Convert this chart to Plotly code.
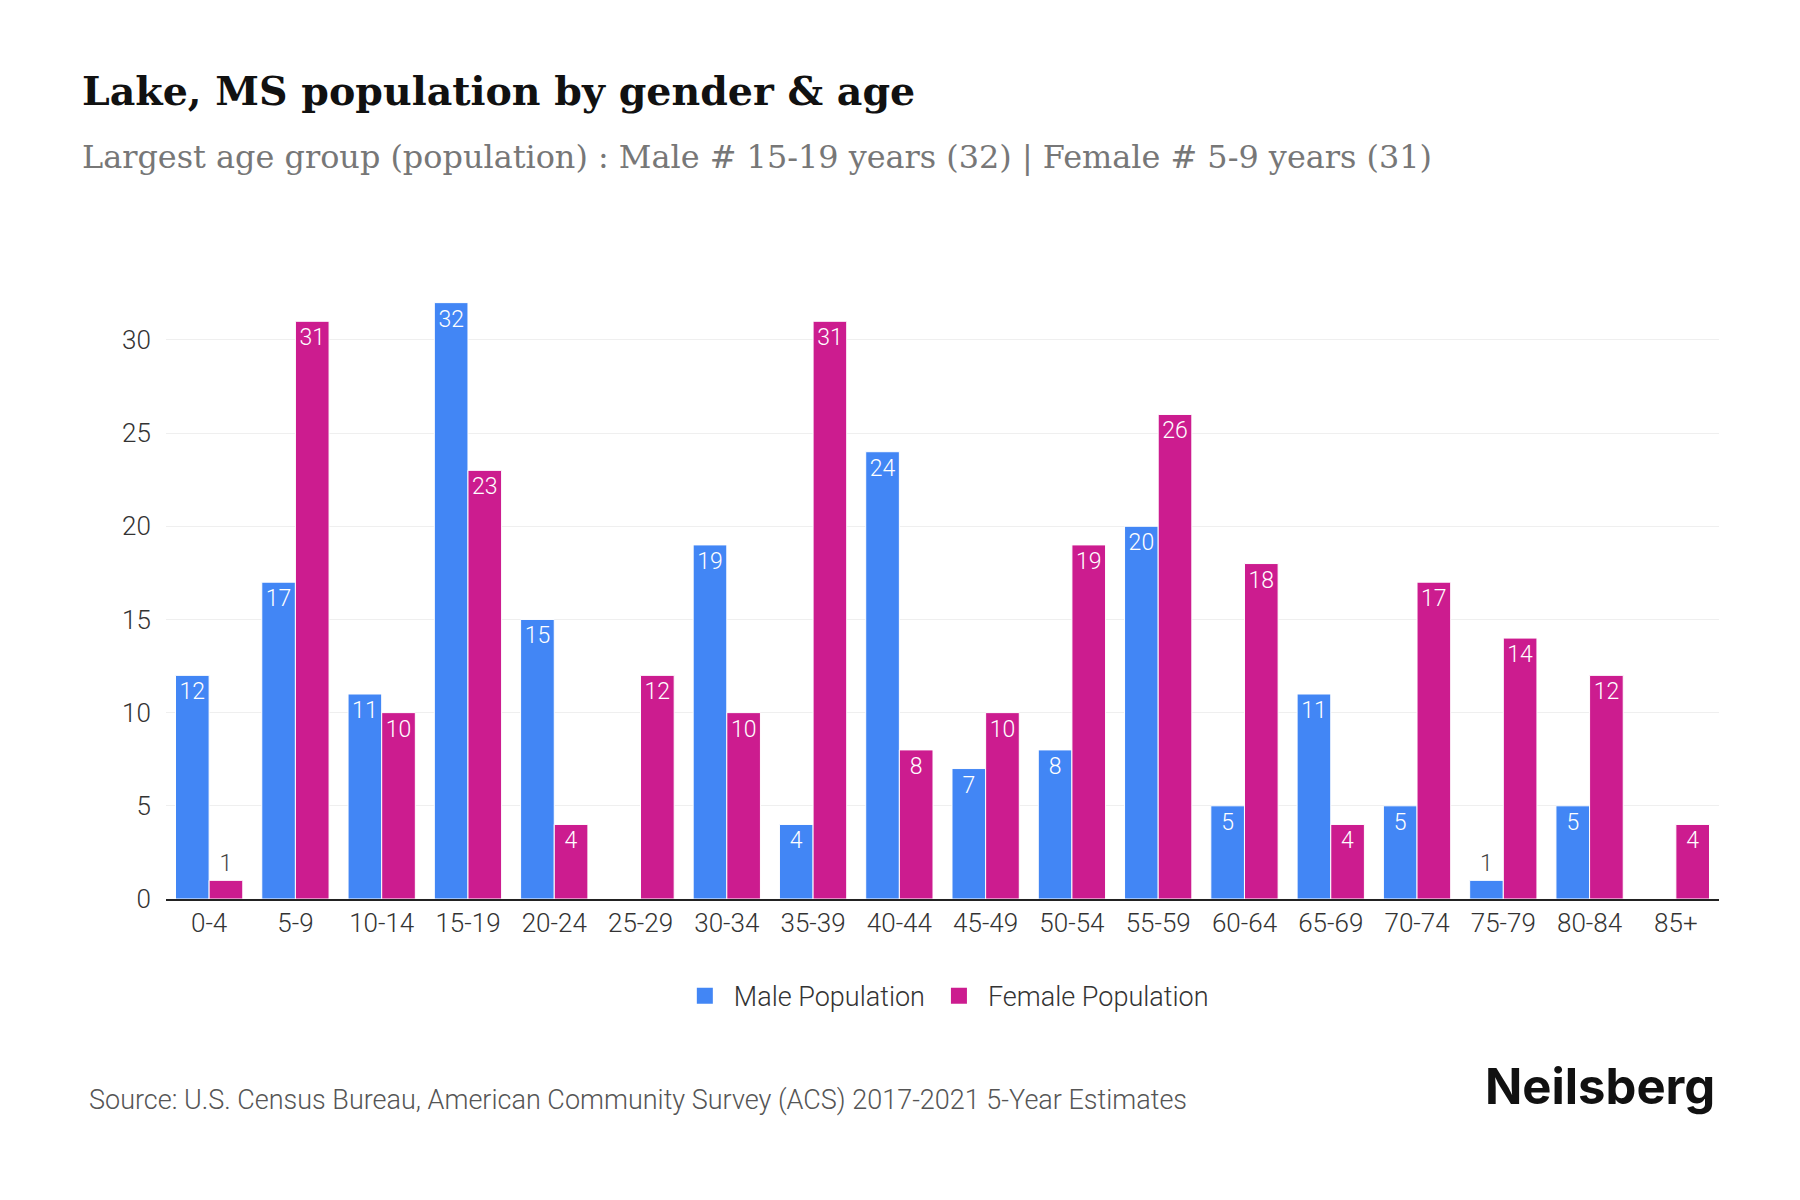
import plotly.graph_objects as go

age_groups = ["0-4", "5-9", "10-14", "15-19", "20-24", "25-29", "30-34", "35-39", "40-44",
              "45-49", "50-54", "55-59", "60-64", "65-69", "70-74", "75-79", "80-84", "85+"]
male = [12, 17, 11, 32, 15, 0, 19, 4, 24, 7, 8, 20, 5, 11, 5, 1, 5, 0]
female = [1, 31, 10, 23, 4, 12, 10, 31, 8, 10, 19, 26, 18, 4, 17, 14, 12, 4]
y_ticks = [0, 5, 10, 15, 20, 25, 30]

title_text = "Lake, MS population by gender & age"
subtitle_text = "Largest age group (population) : Male # 15-19 years (32) | Female # 5-9 years (31)"
source_text = "Source: U.S. Census Bureau, American Community Survey (ACS) 2017-2021 5-Year Estimates"

MALE_C = "#4286F5"
FEMALE_C = "#CC1C8F"
LABEL_FONT = dict(family="Roboto", size=23, weight=300)

fig = go.Figure()
for name, vals, col in [("Male Population", male, MALE_C), ("Female Population", female, FEMALE_C)]:
    fig.add_trace(go.Bar(
        x=age_groups, y=vals, name=name, showlegend=False,
        marker=dict(color=col, line=dict(color="white", width=1)),
        text=[str(v) if v else "" for v in vals],
        textposition=["outside" if v <= 2 else "inside" for v in vals],
        insidetextanchor="end", textangle=0,
        insidetextfont=dict(LABEL_FONT, color="white"),
        outsidetextfont=dict(LABEL_FONT, color="#444444"),
        cliponaxis=False,
    ))
    # legend entry with a larger square swatch
    fig.add_trace(go.Scatter(
        x=[None], y=[None], mode="markers", name=name,
        marker=dict(symbol="square", size=17, color=col),
    ))

fig.update_layout(
    width=1800, height=1200,
    paper_bgcolor="white", plot_bgcolor="white",
    margin=dict(l=158, r=89, t=276, b=309),
    barmode="group", bargap=0.22, bargroupgap=0,
    showlegend=True,
    legend=dict(orientation="h", x=0.5015, xanchor="center", y=-0.158, yanchor="middle",
                font=dict(family="Roboto", size=27, color="#333333", weight=300), itemwidth=48),
    font=dict(family="Roboto", color="#333333"),
)
fig.update_xaxes(showline=True, linecolor="#222222", linewidth=1.5, showgrid=False,
                 tickfont=dict(family="Roboto", size=26, color="#333333", weight=300),
                 ticks="")
fig.update_yaxes(range=[0, 33], tickvals=y_ticks, showgrid=True, gridcolor="#efefef", gridwidth=1,
                 zeroline=False, showline=False,
                 tickfont=dict(family="Roboto", size=26, color="#333333", weight=300),
                 ticks="outside", ticklen=9, tickcolor="rgba(0,0,0,0)")

fig.add_annotation(text="<b>" + title_text + "</b>", xref="paper", yref="paper",
                   x=-0.0554, y=1.314, xanchor="left", yanchor="middle", showarrow=False,
                   font=dict(family="DejaVu Serif", size=39.5, color="#111111"))
fig.add_annotation(text=subtitle_text, xref="paper", yref="paper",
                   x=-0.0554, y=1.2065, xanchor="left", yanchor="middle", showarrow=False,
                   font=dict(family="DejaVu Serif", size=31.9, color="#777777"))
fig.add_annotation(text=source_text, xref="paper", yref="paper",
                   x=-0.0509, y=-0.3268, xanchor="left", yanchor="middle", showarrow=False,
                   font=dict(family="Roboto", size=27, color="#555555", weight=300))
fig.add_annotation(text="<b>Neilsberg</b>", xref="paper", yref="paper",
                   x=0.9987, y=-0.3041, xanchor="right", yanchor="middle", showarrow=False,
                   font=dict(family="Inter", size=49, color="#111111"))

fig.write_html("out.html")
